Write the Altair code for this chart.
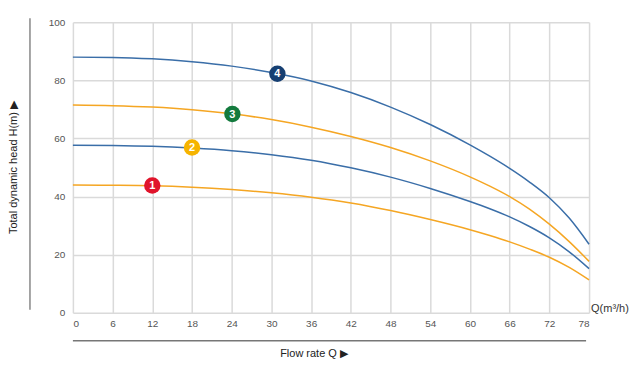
import altair as alt
import pandas as pd

# Flow rate axis ticks (m3/h)
Q_TICKS = [0, 6, 12, 18, 24, 30, 36, 42, 48, 54, 60, 66, 72, 78]
H_TICKS = [0, 20, 40, 60, 80, 100]

# Flow rates at which the curves were read
Q = [0, 6, 12, 18, 24, 30, 36, 42, 48, 54, 60, 63, 66, 69, 72, 75, 78]

# Pump curves (total dynamic head, m)
h1 = [44.0, 43.9, 43.7, 43.2, 42.4, 41.3, 39.8, 37.8, 35.2, 32.1, 28.6, 26.6, 24.4, 21.9, 19.1, 15.6, 11.3]
h2 = [57.7, 57.6, 57.3, 56.7, 55.8, 54.4, 52.5, 49.9, 46.7, 42.8, 38.3, 35.8, 33.0, 29.7, 25.8, 21.0, 15.2]
h3 = [71.5, 71.3, 70.8, 69.9, 68.5, 66.5, 63.9, 60.7, 56.9, 52.3, 46.8, 43.6, 40.0, 35.7, 30.5, 24.5, 17.7]
h4 = [88.0, 87.9, 87.4, 86.4, 84.9, 82.7, 79.8, 75.8, 70.8, 64.8, 57.8, 53.9, 49.7, 45.0, 39.6, 32.6, 23.6]

curve_names = ["1", "2", "3", "4"]
line_colors = ["#f5a623", "#3a6ea8", "#f5a623", "#3a6ea8"]

# Numbered badges
marker_labels = ["1", "2", "3", "4"]
marker_q = [12.0, 18.0, 24.1, 30.9]
marker_h = [43.8, 56.9, 68.4, 82.3]
marker_colors = ["#e0142b", "#f6b400", "#137a3d", "#163f72"]

rows = []
for name, hs in zip(curve_names, [h1, h2, h3, h4]):
    for q, h in zip(Q, hs):
        rows.append({"curve": name, "Q": q, "H": h})
df = pd.DataFrame(rows)
mdf = pd.DataFrame({"label": marker_labels, "Q": marker_q, "H": marker_h})

FONT = "Liberation Sans"

x_enc = alt.X(
    "Q:Q",
    scale=alt.Scale(domain=[0, 78], nice=False, zero=True),
    axis=alt.Axis(
        values=Q_TICKS, tickCount=len(Q_TICKS), grid=True, domain=False, ticks=False,
        labelOverlap=False,
        labelPadding=6, labelFontSize=10, labelColor="#555", labelFont=FONT,
        title="Flow rate Q ▶", titleFont=FONT, titleFontSize=11,
        titleFontWeight="normal", titleColor="#222",
        titleX=241, titleY=41, titleBaseline="middle", titleAlign="center",
    ),
)
y_enc = alt.Y(
    "H:Q",
    scale=alt.Scale(domain=[0, 100], nice=False),
    axis=alt.Axis(
        values=H_TICKS, tickCount=len(H_TICKS), grid=True, domain=False, ticks=False,
        labelOverlap=False,
        labelPadding=8, labelFontSize=10, labelColor="#555", labelFont=FONT,
        title="Total dynamic head H(m) ▶", titleFont=FONT, titleFontSize=11,
        titleFontWeight="normal", titleColor="#222",
        titleX=-59, titleY=145, titleAngle=-90,
        titleBaseline="middle", titleAlign="center",
    ),
)

lines = alt.Chart(df).mark_line(interpolate="monotone", strokeWidth=1.5).encode(
    x=x_enc,
    y=y_enc,
    color=alt.Color("curve:N", scale=alt.Scale(domain=curve_names, range=line_colors), legend=None),
    detail="curve:N",
)

badges = alt.Chart(mdf).mark_circle(size=270, opacity=1).encode(
    x="Q:Q",
    y="H:Q",
    color=alt.Color("label:N", scale=alt.Scale(domain=marker_labels, range=marker_colors), legend=None),
)
badge_text = alt.Chart(mdf).mark_text(
    color="white", fontWeight="bold", fontSize=11, font=FONT, baseline="middle", dy=0.5
).encode(x="Q:Q", y="H:Q", text="label:N")

one = pd.DataFrame({"a": [0]})
left_rule = alt.Chart(one).mark_rule(color="#888", strokeWidth=1.5).encode(
    x=alt.value(-43), y=alt.value(-4), y2=alt.value(288)
)
bottom_rule = alt.Chart(one).mark_rule(color="#777", strokeWidth=1.5).encode(
    x=alt.value(0), x2=alt.value(514), y=alt.value(319)
)
q_unit = alt.Chart(one).mark_text(
    text="Q(m³/h)", align="left", baseline="middle", fontSize=11, font=FONT, color="#333"
).encode(x=alt.value(519), y=alt.value(287))

chart = alt.layer(lines, badges, badge_text, left_rule, bottom_rule, q_unit).resolve_scale(
    color="independent"
).properties(
    width=517,
    height=291,
    autosize=alt.AutoSizeParams(type="none"),
    padding={"left": 65, "top": 14, "right": 42, "bottom": 50},
).configure_axis(
    gridColor="#dadada", gridWidth=1.5
).configure_view(stroke=None)

chart.save("out.html", embed_options={"renderer": "svg", "actions": False})
